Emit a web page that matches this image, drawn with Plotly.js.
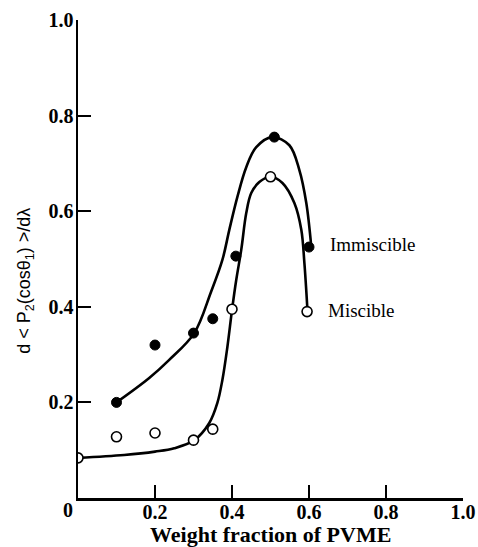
<!DOCTYPE html>
<html>
<head>
<meta charset="utf-8">
<script src="https://cdn.plot.ly/plotly-3.0.1.min.js"></script>
<style>html,body{margin:0;padding:0;background:#fff}#chart{width:478px;height:547px}</style>
</head>
<body>
<div id="chart"></div>
<script>
// Measured data points
const immiscibleX = [0.10, 0.20, 0.30, 0.35, 0.41, 0.51, 0.60];
const immiscibleY = [0.20, 0.32, 0.345, 0.375, 0.506, 0.755, 0.525];
const miscibleX = [0.0, 0.10, 0.20, 0.30, 0.35, 0.40, 0.50, 0.595];
const miscibleY = [0.084, 0.128, 0.136, 0.121, 0.144, 0.395, 0.672, 0.39];

// Hand-drawn fit curves
const immCurveX = [0.10, 0.185, 0.237, 0.302, 0.345, 0.375, 0.393, 0.414, 0.437, 0.463, 0.505, 0.549, 0.575, 0.593, 0.606];
const immCurveY = [0.20, 0.251, 0.289, 0.345, 0.43, 0.498, 0.561, 0.630, 0.692, 0.734, 0.755, 0.738, 0.686, 0.617, 0.525];
const misCurveX = [0.0, 0.12, 0.20, 0.25, 0.302, 0.341, 0.362, 0.375, 0.388, 0.40, 0.411, 0.424, 0.437, 0.45, 0.471, 0.50, 0.531, 0.562, 0.58, 0.588, 0.596];
const misCurveY = [0.084, 0.09, 0.097, 0.104, 0.121, 0.157, 0.199, 0.247, 0.316, 0.393, 0.456, 0.519, 0.596, 0.638, 0.661, 0.672, 0.659, 0.617, 0.561, 0.492, 0.393];

// Tick labels and texts
const xTickVals = [0.2, 0.4, 0.6, 0.8, 1.0];
const xTickText = ['0.2', '0.4', '0.6', '0.8', '1.0'];
const yTickVals = [0.2, 0.4, 0.6, 0.8, 1.0];
const yTickText = ['0.2', '0.4', '0.6', '0.8', '1.0'];
const seriesLabels = ['Immiscible', 'Miscible'];
const xTitle = 'Weight fraction of PVME';
const yTitle = 'd < P<sub>2</sub>(cosθ<sub>1</sub>) >/dλ';

const SERIF = 'Liberation Serif, Times New Roman, serif';
const serifBold = {family: SERIF, size: 20, color: '#000', weight: 'bold'};

const traces = [
  {x: immCurveX, y: immCurveY, mode: 'lines', line: {color: '#000', width: 2.6, shape: 'spline', smoothing: 1}, hoverinfo: 'skip'},
  {x: misCurveX, y: misCurveY, mode: 'lines', line: {color: '#000', width: 2.6, shape: 'spline', smoothing: 1}, hoverinfo: 'skip'},
  {x: immiscibleX, y: immiscibleY, mode: 'markers', name: seriesLabels[0],
   marker: {color: '#000', size: 10, line: {color: '#000', width: 1}}},
  {x: miscibleX, y: miscibleY, mode: 'markers', name: seriesLabels[1],
   marker: {color: '#fff', size: 10, line: {color: '#000', width: 1.6}}}
];

const layout = {
  width: 478, height: 547,
  margin: {l: 78, r: 15, t: 20, b: 49},
  showlegend: false,
  paper_bgcolor: '#fff', plot_bgcolor: '#fff',
  xaxis: {
    range: [0, 1.0], showgrid: false, zeroline: false,
    showline: true, linecolor: '#000', linewidth: 2.5,
    ticks: 'inside', ticklen: 13, tickwidth: 2, tickcolor: '#000',
    tickvals: xTickVals, ticktext: xTickText, tickfont: serifBold,
    ticklabelstandoff: -6
  },
  yaxis: {
    range: [0, 1.0], showgrid: false, zeroline: false,
    showline: true, linecolor: '#000', linewidth: 2.5,
    ticks: 'inside', ticklen: 13, tickwidth: 2, tickcolor: '#000',
    tickvals: yTickVals, ticktext: yTickText, tickfont: serifBold,
    ticklabelstandoff: -2
  },
  annotations: [
    {x: 0, y: 0, xref: 'x', yref: 'paper', text: '0', showarrow: false, xanchor: 'center', yanchor: 'middle', xshift: -10, yshift: -12, font: serifBold},
    {x: 0.5, y: -0.077, xref: 'paper', yref: 'paper', text: xTitle, showarrow: false, xanchor: 'center', yanchor: 'middle',
     font: {family: SERIF, size: 22, color: '#000', weight: 'bold'}},
    {x: -0.137, y: 0.455, xref: 'paper', yref: 'paper', text: yTitle, textangle: -90, showarrow: false, xanchor: 'center', yanchor: 'middle',
     font: {family: 'Liberation Sans, Arial, sans-serif', size: 18, color: '#000'}},
    {x: 0.65, y: 0.531, xref: 'x', yref: 'y', text: seriesLabels[0], showarrow: false, xanchor: 'left', yanchor: 'middle', font: {family: SERIF, size: 19, color: '#000'}},
    {x: 0.645, y: 0.393, xref: 'x', yref: 'y', text: seriesLabels[1], showarrow: false, xanchor: 'left', yanchor: 'middle', font: {family: SERIF, size: 19, color: '#000'}}
  ]
};

Plotly.newPlot('chart', traces, layout, {displayModeBar: false, staticPlot: true});
</script>
</body>
</html>
